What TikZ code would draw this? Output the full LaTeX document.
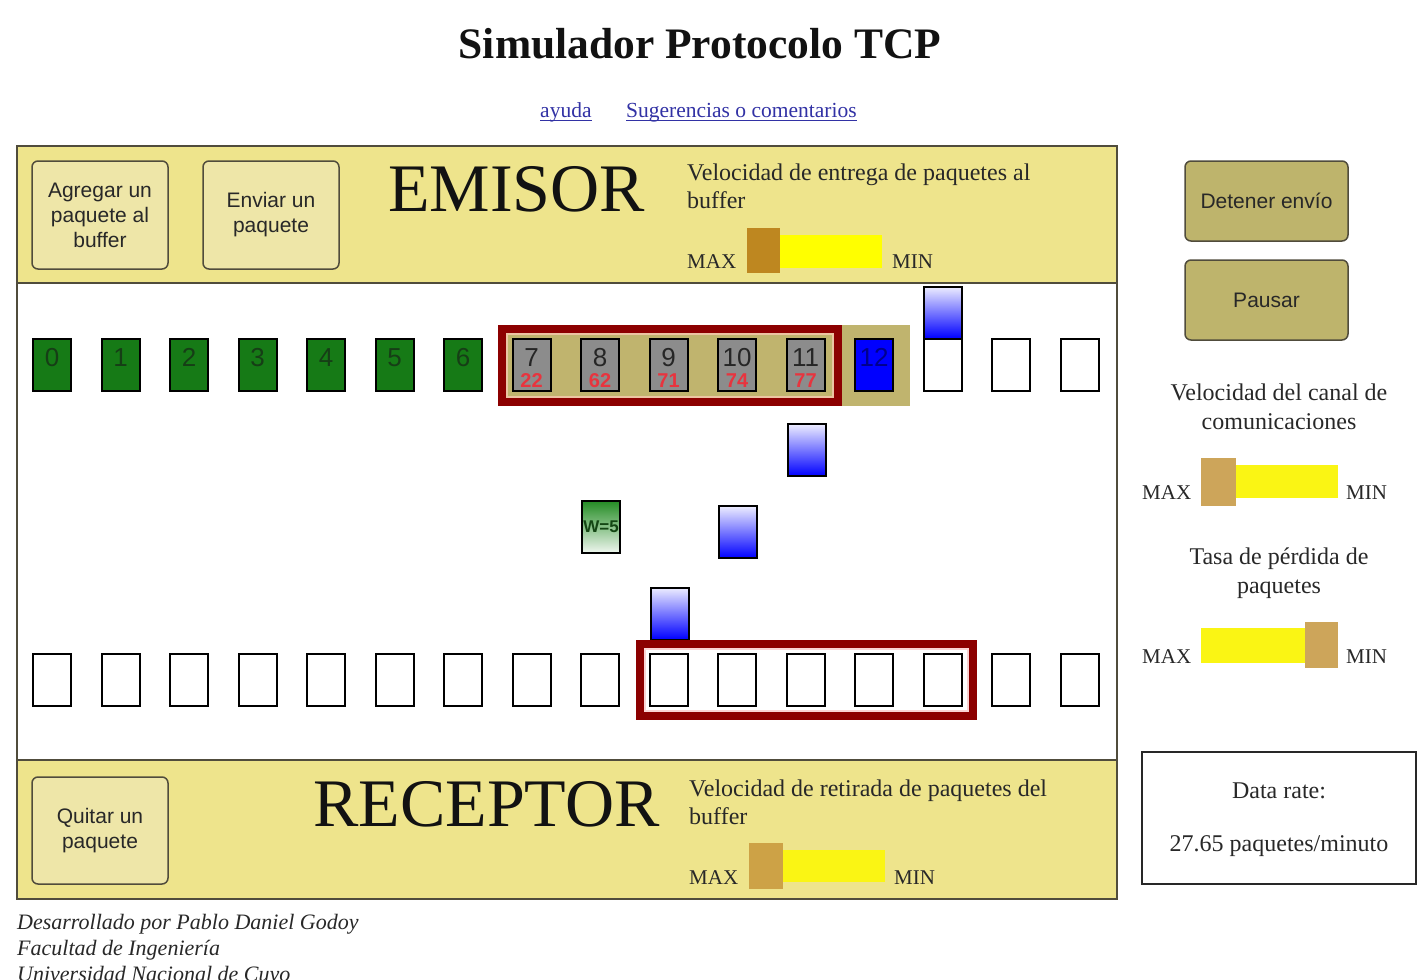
\documentclass[tikz,border=0pt]{standalone}
\usepackage{fontspec}
\setmainfont{Liberation Serif}
\newfontfamily\uisans{Liberation Sans}
\usetikzlibrary{calc}

\definecolor{band}{RGB}{238,228,140}
\definecolor{btnlight}{RGB}{238,230,168}
\definecolor{btndark}{RGB}{190,180,108}
\definecolor{edge}{RGB}{80,76,60}
\definecolor{pktgreen}{RGB}{22,122,22}
\definecolor{pktnum}{RGB}{22,62,22}
\definecolor{pktgray}{RGB}{140,140,140}
\definecolor{winred}{RGB}{140,0,0}
\definecolor{winline}{RGB}{236,196,162}
\definecolor{rxline}{RGB}{250,212,212}
\definecolor{wintan}{RGB}{192,180,110}
\definecolor{seqred}{RGB}{232,52,62}
\definecolor{linkblue}{RGB}{50,50,165}
\definecolor{ink}{RGB}{40,40,40}
\definecolor{thumbA}{RGB}{190,135,32}
\definecolor{thumbB}{RGB}{205,162,70}
\definecolor{thumbC}{RGB}{205,165,90}
\definecolor{track}{RGB}{250,245,20}
\definecolor{trackhot}{RGB}{255,255,0}
\definecolor{navy}{RGB}{0,0,140}
\definecolor{wgreen}{RGB}{34,139,34}
\definecolor{wtext}{RGB}{20,70,20}

\begin{document}
\begin{tikzpicture}[x=1pt,y=-1pt,
  txt/.style={inner sep=0, anchor=base west, text=ink, font=\fontsize{24}{28}\selectfont},
  txtc/.style={txt, anchor=base},
  lim/.style={inner sep=0, anchor=base west, text=ink, font=\fontsize{21}{24}\selectfont},
  btn/.style={draw=edge, line width=1.5, rounded corners=6, align=center, text=ink,
              font=\uisans\fontsize{21}{25}\selectfont, inner sep=0},
  pkt/.style={draw=black, line width=2, minimum width=38, minimum height=52, inner sep=0},
  emptypkt/.style={pkt, fill=white},
  flypkt/.style={pkt, top color=blue!7, bottom color=blue},
  num/.style={inner sep=0, anchor=base, font=\uisans\fontsize{26}{26}\selectfont},
  seq/.style={inner sep=0, anchor=base, text=seqred, font=\uisans\bfseries\fontsize{20}{20}\selectfont},
  thumb/.style={inner sep=0, minimum width=34, minimum height=46},
  trackbar/.style={inner sep=0, fill=track, minimum width=102, minimum height=33},
  bigword/.style={inner sep=0, anchor=base west, text=black!93, font=\fontsize{68}{70}\selectfont},
  credit/.style={inner sep=0, anchor=base west, text=ink, font=\itshape\fontsize{22}{24}\selectfont}
]
\fill[white] (0,0) rectangle (1425,980);
\useasboundingbox (0,0) rectangle (1425,980);

% ---- heading and links
\node[inner sep=0, anchor=base, text=black!93, font=\bfseries\fontsize{43.5}{48}\selectfont] (title) at (700,58) {Simulador Protocolo TCP};
\node[inner sep=0, anchor=base west, text=linkblue, font=\fontsize{21.5}{24}\selectfont] (help) at (540,117) {ayuda};
\node[inner sep=0, anchor=base west, text=linkblue, font=\fontsize{21.5}{24}\selectfont] (tips) at (626,117) {Sugerencias o comentarios};
\draw[linkblue, line width=1] ([yshift=-3]help.base west) -- ([yshift=-3]help.base east);
\draw[linkblue, line width=1] ([yshift=-3]tips.base west) -- ([yshift=-3]tips.base east);

% ---- simulator frame
\fill[band] (17,146) rectangle (1117,283);
\fill[band] (17,760) rectangle (1117,899);
\draw[edge, line width=1.5] (17,283) -- (1117,283);
\draw[edge, line width=1.5] (17,760) -- (1117,760);
\draw[edge, line width=1.5] (17,146) rectangle (1117,899);

% ---- sender band
\node[btn, fill=btnlight, minimum width=136, minimum height=108] (add) at (100,215) {Agregar un\\paquete al\\buffer};
\node[btn, fill=btnlight, minimum width=136, minimum height=108] (send) at (271,215) {Enviar un\\paquete};
\node[bigword] (emisor) at (388,211) {EMISOR};
\node[txt] (sv1) at (687,180) {Velocidad de entrega de paquetes al};
\node[txt] (sv2) at (687,208) {buffer};
\node[lim] (smax) at (687,268) {MAX};
\node[trackbar, fill=trackhot] (strack) at (831,251.5) {};
\node[thumb, fill=thumbA, minimum width=33, minimum height=45] (sthumb) at (763.5,250.5) {};
\node[lim] (smin) at (892,268) {MIN};

% ---- sender window
\fill[wintan] (498,325) rectangle (910,406);
\draw[winred, line width=8] (502,329) rectangle (838,402);
\draw[winline, line width=1.5] (507,334) rectangle (833,397);

% ---- sender packets
\foreach \i in {0,...,6}{
  \node[pkt, fill=pktgreen] (s\i) at ({52+68.5*\i},365) {};
  \node[num, text=pktnum] at ({52+68.5*\i},366) {\i};
}
\foreach \i/\t in {7/22,8/62,9/71,10/74,11/77}{
  \node[pkt, fill=pktgray] (s\i) at ({52+68.5*\i},365) {};
  \node[num, text=black!85] at ({52+68.5*\i},366) {\i};
  \node[seq] at ({52+68.5*\i},387) {\t};
}
\node[pkt, fill=blue] (s12) at ({52+68.5*12},365) {};
\node[num, text=navy] at ({52+68.5*12},366) {12};
\foreach \i in {13,14,15}{
  \node[emptypkt] (s\i) at ({52+68.5*\i},365) {};
}
\node[flypkt] (out13) at (943,312.5) {};

% ---- packets and acknowledgement in transit
\node[flypkt] (fly1) at (807,450) {};
\node[flypkt] (fly2) at (738,532) {};
\node[flypkt] (fly3) at (670,613.5) {};
\node[pkt, top color=wgreen, bottom color=white!92!wgreen, text=wtext,
      font=\uisans\bfseries\fontsize{17}{17}\selectfont] (ack) at (601,526.5) {W=5};

% ---- receiver window and buffer
\draw[winred, line width=8] (640,644) rectangle (973,716);
\draw[rxline, line width=1.5] (645,649) rectangle (968,711);
\foreach \i in {0,...,15}{
  \node[emptypkt] (r\i) at ({52+68.5*\i},680) {};
}

% ---- receiver band
\node[btn, fill=btnlight, minimum width=136, minimum height=107] (take) at (100,830.5) {Quitar un\\paquete};
\node[bigword] (receptor) at (313,826) {RECEPTOR};
\node[txt] (rv1) at (689,796) {Velocidad de retirada de paquetes del};
\node[txt] (rv2) at (689,824) {buffer};
\node[lim] (rmax) at (689,884) {MAX};
\node[trackbar, minimum height=32] (rtrack) at (834,866) {};
\node[thumb, fill=thumbB] (rthumb) at (766,866) {};
\node[lim] (rmin) at (894,884) {MIN};

% ---- side controls
\node[btn, fill=btndark, minimum width=163, minimum height=80] (stop) at (1266.5,201) {Detener envío};
\node[btn, fill=btndark, minimum width=163, minimum height=80] (pause) at (1266.5,300) {Pausar};

\node[txtc] (cv1) at (1279,400) {Velocidad del canal de};
\node[txtc] (cv2) at (1279,429) {comunicaciones};
\node[lim] (cmax) at (1142,499) {MAX};
\node[trackbar] (ctrack) at (1287,481.5) {};
\node[thumb, fill=thumbC, minimum width=35, minimum height=48] (cthumb) at (1218.5,482) {};
\node[lim] (cmin) at (1346,499) {MIN};

\node[txtc] (lv1) at (1279,564) {Tasa de pérdida de};
\node[txtc] (lv2) at (1279,593) {paquetes};
\node[lim] (lmax) at (1142,663) {MAX};
\node[trackbar, minimum width=104, minimum height=35] (ltrack) at (1253,645.5) {};
\node[thumb, fill=thumbC, minimum width=33, minimum height=46] (lthumb) at (1321.5,645) {};
\node[lim] (lmin) at (1346,663) {MIN};

\node[draw=ink, line width=1.5, fill=white, minimum width=274, minimum height=132, inner sep=0] (rate) at (1279,818) {};
\node[txtc] (ratelbl) at (1279,798) {Data rate:};
\node[txtc] (rateval) at (1279,851) {27.65 paquetes/minuto};

% ---- credits (the last line runs past the lower edge of the page)
\begin{scope}
\clip (0,0) rectangle (1425,980);
\node[credit] (cr1) at (17,929) {Desarrollado por Pablo Daniel Godoy};
\node[credit] (cr2) at (17,955) {Facultad de Ingeniería};
\node[credit] (cr3) at (17,981) {Universidad Nacional de Cuyo};
\end{scope}
\end{tikzpicture}
\end{document}
